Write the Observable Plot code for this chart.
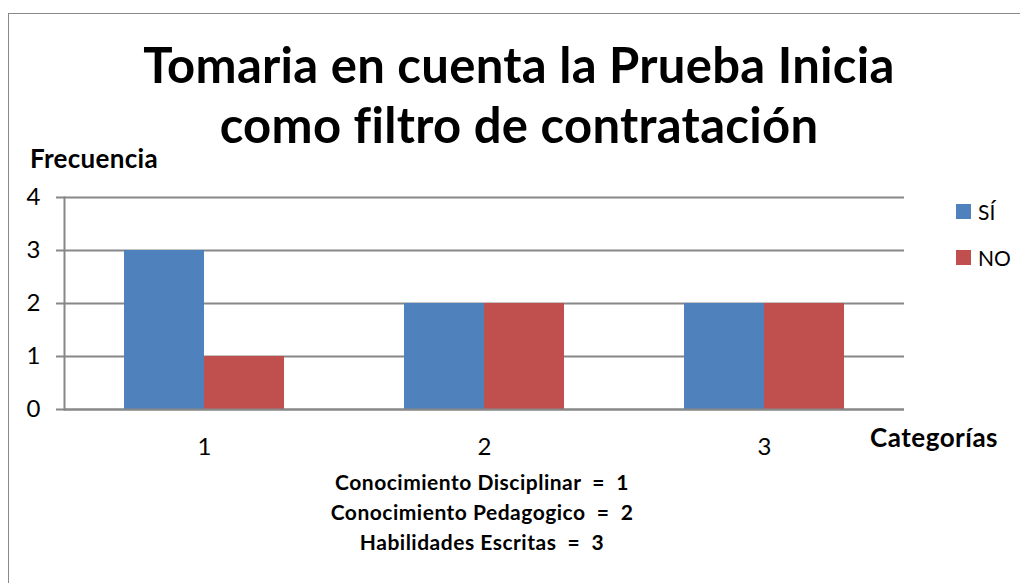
<!DOCTYPE html>
<html>
<head>
<meta charset="utf-8">
<script src="https://cdn.jsdelivr.net/npm/d3@7"></script>
<script src="https://cdn.jsdelivr.net/npm/@observablehq/plot@0.6"></script>
<style>
  html, body { margin: 0; padding: 0; background: #fff; }
  #wrap { position: relative; width: 1020px; height: 583px; overflow: hidden; font-family: Lato, "Liberation Sans", sans-serif; color: #000; }
  #border { position: absolute; left: 8px; top: 13px; width: 1100px; height: 700px; border: 1.5px solid #898989; box-sizing: border-box; }
  #chart { position: absolute; left: 0; top: 0; }
  .t { position: absolute; white-space: nowrap; }
  #title { left: 0; width: 1038px; top: 34px; text-align: center; font-weight: 700; font-size: 49px; line-height: 60px; letter-spacing: 0.3px; }
  #ylabel { left: 30px; top: 142px; font-weight: 700; font-size: 26px; letter-spacing: 0.3px; }
  #xlabel { left: 870px; top: 421px; font-weight: 700; font-size: 26px; letter-spacing: 0.5px; }
  #caption { left: 0; width: 964px; top: 467px; text-align: center; font-weight: 700; font-size: 21px; line-height: 30px; letter-spacing: 0.5px; }
  #legend { left: 956px; top: 199px; font-size: 21px; }
  .li { display: flex; align-items: center; height: 25px; margin-bottom: 21px; }
  .sw { width: 15px; height: 15px; margin-right: 7px; }
</style>
</head>
<body>
<div id="wrap">
  <div id="border"></div>
  <div id="chart"></div>
  <div class="t" id="title"></div>
  <div class="t" id="ylabel"></div>
  <div class="t" id="xlabel"></div>
  <div class="t" id="legend"></div>
  <div class="t" id="caption"></div>
</div>
<script>
const titleLines = ["Tomaria en cuenta la Prueba Inicia", "como filtro de contratación"];
const yLabel = "Frecuencia";
const xLabel = "Categorías";
const categories = ["1", "2", "3"];
const series = ["SÍ", "NO"];
const valuesSI = [3, 2, 2];
const valuesNO = [1, 2, 2];
const yTicks = [0, 1, 2, 3, 4];
const colors = ["#4F81BD", "#C0504D"];
const captionLines = [
  "Conocimiento Disciplinar  =  1",
  "Conocimiento Pedagogico  =  2",
  "Habilidades Escritas  =  3"
];

const seriesValues = [valuesSI, valuesNO];
const data = categories.flatMap((c, i) =>
  series.map((s, j) => ({ cat: c, serie: s, value: seriesValues[j][i] }))
);

const gridColor = "#878787";
const half = 80;

const chart = Plot.plot({
  width: 1020,
  height: 583,
  marginLeft: 64,
  marginRight: 116,
  marginTop: 197,
  marginBottom: 174,
  style: { fontFamily: "Lato, 'Liberation Sans', sans-serif", background: "transparent", color: "#000" },
  x: { domain: categories, paddingInner: 3 / 7, paddingOuter: 1.5 / 7, axis: null },
  y: { domain: [0, 4], axis: null },
  color: { domain: series, range: colors },
  marks: [
    Plot.ruleY(yTicks, { stroke: gridColor, strokeWidth: 2 }),
    Plot.barY(data.filter(d => d.serie === series[0]), { x: "cat", y: "value", fill: "serie", insetLeft: 0, insetRight: half }),
    Plot.barY(data.filter(d => d.serie === series[1]), { x: "cat", y: "value", fill: "serie", insetLeft: half, insetRight: 0 }),
    Plot.axisY(yTicks, { tickSize: 8, tickPadding: 16, fontSize: 24, tickFormat: d3.format("d"), stroke: gridColor, strokeWidth: 2, strokeOpacity: 1, fill: "#000", label: null }),
    Plot.frame({ anchor: "left", stroke: gridColor, strokeWidth: 2 }),
    Plot.ruleY([0], { stroke: gridColor, strokeWidth: 2 }),
    Plot.axisX({ tickSize: 0, tickPadding: 28, fontSize: 24, fill: "#000", label: null })
  ]
});
document.getElementById("chart").appendChild(chart);

document.getElementById("title").innerHTML = titleLines.join("<br>");
document.getElementById("ylabel").textContent = yLabel;
document.getElementById("xlabel").textContent = xLabel;
document.getElementById("caption").innerHTML = captionLines.map(l => l.replace(/ /g, "&nbsp;")).join("<br>");
const leg = document.getElementById("legend");
series.forEach((s, i) => {
  const row = document.createElement("div");
  row.className = "li";
  const sw = document.createElement("div");
  sw.className = "sw";
  sw.style.background = colors[i];
  const tx = document.createElement("span");
  tx.textContent = s;
  row.appendChild(sw);
  row.appendChild(tx);
  leg.appendChild(row);
});
</script>
</body>
</html>
